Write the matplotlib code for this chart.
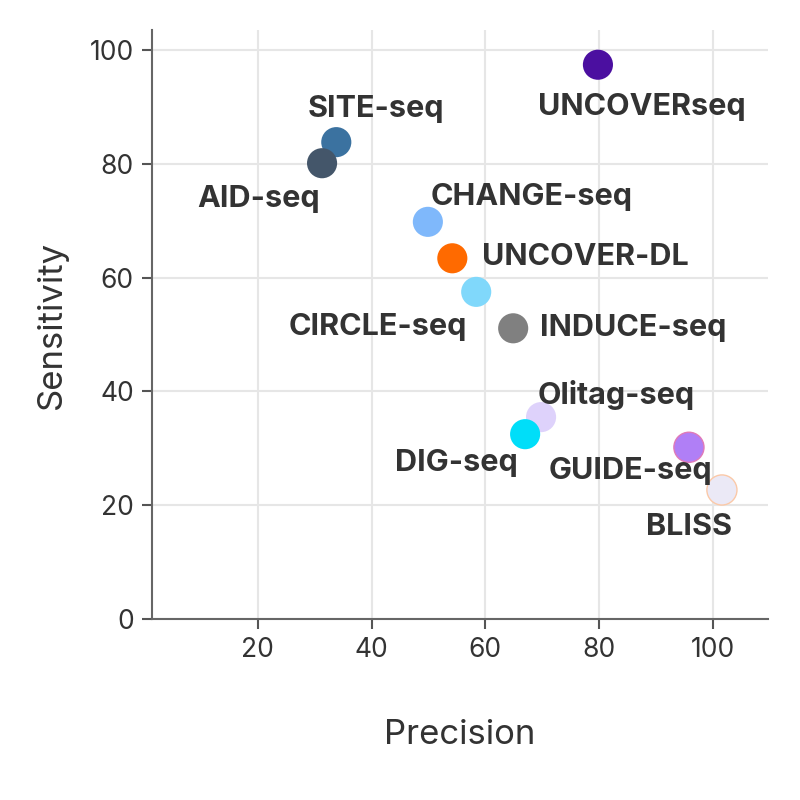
import matplotlib
matplotlib.use("Agg")
import matplotlib.pyplot as plt

methods = ["UNCOVERseq", "SITE-seq", "AID-seq", "CHANGE-seq", "UNCOVER-DL", "CIRCLE-seq",
           "INDUCE-seq", "Olitag-seq", "DIG-seq", "GUIDE-seq", "BLISS"]
precision = [79.8, 33.8, 31.3, 49.9, 54.2, 58.4, 64.9, 69.8, 67.0, 95.8, 101.6]
sensitivity = [97.4, 83.8, 80.1, 69.8, 63.4, 57.5, 51.1, 35.5, 32.5, 30.2, 22.7]
colors = ["#4b0fa0", "#3b72a0", "#44566a", "#7fb8fb", "#ff6a00", "#80d8fb",
          "#808080", "#ded2fb", "#00def9", "#b07ff6", "#ebe9f6"]
edges = ["none", "none", "none", "none", "none", "none",
         "none", "none", "none", "#e07ab8", "#fbc9a8"]

# label offsets in pixels (dx, dy) and alignment
label_pos = {
    "UNCOVERseq": (44, -42, "center"),
    "SITE-seq": (40, 33, "center"),
    "AID-seq": (-63, -36, "center"),
    "CHANGE-seq": (3, 25, "left"),
    "UNCOVER-DL": (30, 1, "left"),
    "CIRCLE-seq": (-9, -35, "right"),
    "INDUCE-seq": (27, 0, "left"),
    "Olitag-seq": (-3, 22, "left"),
    "DIG-seq": (-7, -29, "right"),
    "GUIDE-seq": (-59, -24, "center"),
    "BLISS": (-33, -37, "center"),
}

plt.rcParams["font.family"] = ["Inter", "DejaVu Sans"]

fig = plt.figure(figsize=(8, 8), dpi=100)
ax = fig.add_axes([0.19, 0.226, 0.77, 0.7365])

ax.scatter(precision, sensitivity, s=470, c=colors, edgecolors=edges, linewidths=1, zorder=3)

for name, x, y in zip(methods, precision, sensitivity):
    dx, dy, ha = label_pos[name]
    ax.annotate(name, (x, y), xytext=(dx, dy), textcoords="offset pixels",
                ha=ha, va="center", fontsize=22, fontweight="bold", color="#333333", zorder=4)

ax.set_xlim(1.4, 109.7)
ax.set_ylim(0, 103.5)
ax.set_xticks([20, 40, 60, 80, 100])
ax.set_yticks([0, 20, 40, 60, 80, 100])
ax.grid(True, color="#e6e6e6", linewidth=1.5, zorder=0)
ax.set_axisbelow(True)
for side in ["top", "right"]:
    ax.spines[side].set_visible(False)
for side in ["left", "bottom"]:
    ax.spines[side].set_color("#666666")
    ax.spines[side].set_linewidth(1.5)
ax.tick_params(length=7, width=1.5, color="#555555", labelsize=19, labelcolor="#333333", pad=6)

ax.set_xlabel("Precision", fontsize=25, color="#333333", labelpad=40)
ax.set_ylabel("Sensitivity", fontsize=25, color="#333333", labelpad=16)

fig.savefig("out.png", dpi=100)
